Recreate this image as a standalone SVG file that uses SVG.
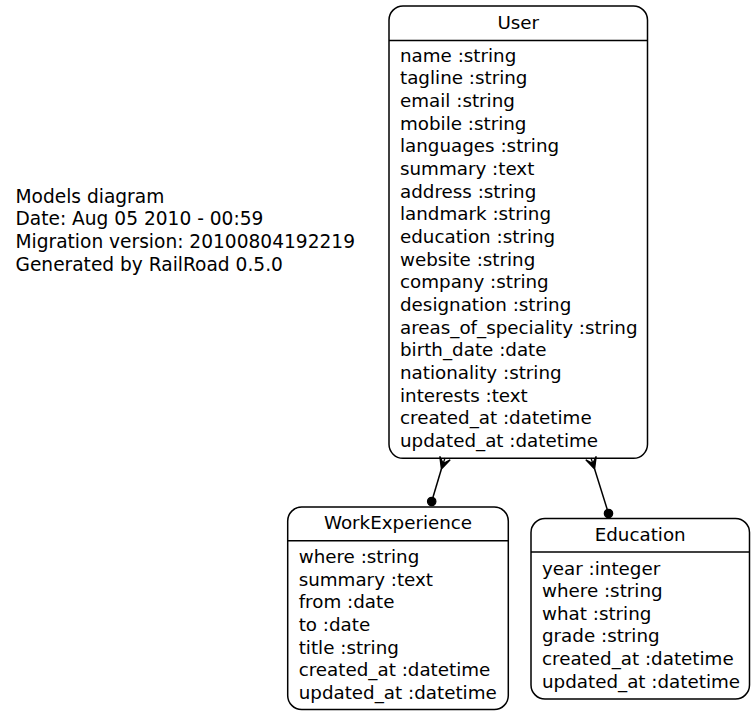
<svg xmlns="http://www.w3.org/2000/svg" width="755" height="715" viewBox="0 0 755 715">
<style>
text{font-family:"DejaVu Sans","Liberation Sans",sans-serif;font-size:18.3px;fill:#000}
.lg{font-size:18.6px}
.t{text-anchor:middle}
.box{fill:#fff;stroke:#000;stroke-width:1.5}
.div{stroke:#000;stroke-width:1.5}
.edge{stroke:#000;stroke-width:1.5;fill:none}
.head{fill:#000;stroke:#000;stroke-width:1.3;stroke-linejoin:miter}
</style>
<rect width="755" height="715" fill="#fff"/>
<g id="legend">
<text class="lg" x="15.5" y="202.5">Models diagram</text>
<text class="lg" x="15.5" y="225.3">Date: Aug 05 2010 - 00:59</text>
<text class="lg" x="15.5" y="248.1">Migration version: 20100804192219</text>
<text class="lg" x="15.5" y="270.9">Generated by RailRoad 0.5.0</text>
</g>
<g id="User">
<rect class="box" x="389" y="6" width="258.5" height="452.3" rx="14" ry="14"/>
<line class="div" x1="389" y1="40.6" x2="647.5" y2="40.6"/>
<text class="t" x="518.3" y="28.8">User</text>
<text x="400" y="61.8">name :string</text>
<text x="400" y="84.45">tagline :string</text>
<text x="400" y="107.1">email :string</text>
<text x="400" y="129.75">mobile :string</text>
<text x="400" y="152.4">languages :string</text>
<text x="400" y="175.05">summary :text</text>
<text x="400" y="197.7">address :string</text>
<text x="400" y="220.35">landmark :string</text>
<text x="400" y="243">education :string</text>
<text x="400" y="265.65">website :string</text>
<text x="400" y="288.3">company :string</text>
<text x="400" y="310.95">designation :string</text>
<text x="400" y="333.6">areas_of_speciality :string</text>
<text x="400" y="356.25">birth_date :date</text>
<text x="400" y="378.9">nationality :string</text>
<text x="400" y="401.55">interests :text</text>
<text x="400" y="424.2">created_at :datetime</text>
<text x="400" y="446.85">updated_at :datetime</text>
</g>
<g id="WorkExperience">
<rect class="box" x="287.7" y="507" width="220.6" height="202.5" rx="14" ry="14"/>
<line class="div" x1="287.7" y1="540.8" x2="508.3" y2="540.8"/>
<text class="t" x="398" y="528.8">WorkExperience</text>
<text x="298.7" y="563.2">where :string</text>
<text x="298.7" y="585.8">summary :text</text>
<text x="298.7" y="608.4">from :date</text>
<text x="298.7" y="631">to :date</text>
<text x="298.7" y="653.6">title :string</text>
<text x="298.7" y="676.2">created_at :datetime</text>
<text x="298.7" y="698.8">updated_at :datetime</text>
</g>
<g id="Education">
<rect class="box" x="531" y="518.5" width="218.5" height="180.5" rx="14" ry="14"/>
<line class="div" x1="531" y1="552" x2="749.5" y2="552"/>
<text class="t" x="640.2" y="540.8">Education</text>
<text x="542" y="574.5">year :integer</text>
<text x="542" y="597.1">where :string</text>
<text x="542" y="619.7">what :string</text>
<text x="542" y="642.3">grade :string</text>
<text x="542" y="664.9">created_at :datetime</text>
<text x="542" y="687.5">updated_at :datetime</text>
</g>
<g id="connectors">
<line class="edge" x1="441.4" y1="469" x2="431.7" y2="501.5"/>
<polygon class="head" points="441.4,469 450.2,459.7 443.2,463.5 445,458 443.2,463.5 439.8,456.3"/>
<circle cx="431.7" cy="501.5" r="4.2" fill="#000" stroke="#000" stroke-width="1.2"/>
<line class="edge" x1="594.6" y1="469" x2="608.5" y2="513.5"/>
<polygon class="head" points="594.6,469 596.2,456.3 592.8,463.5 591,458 592.8,463.5 585.8,459.7"/>
<circle cx="608.5" cy="513.5" r="4.2" fill="#000" stroke="#000" stroke-width="1.2"/>
</g>
</svg>
